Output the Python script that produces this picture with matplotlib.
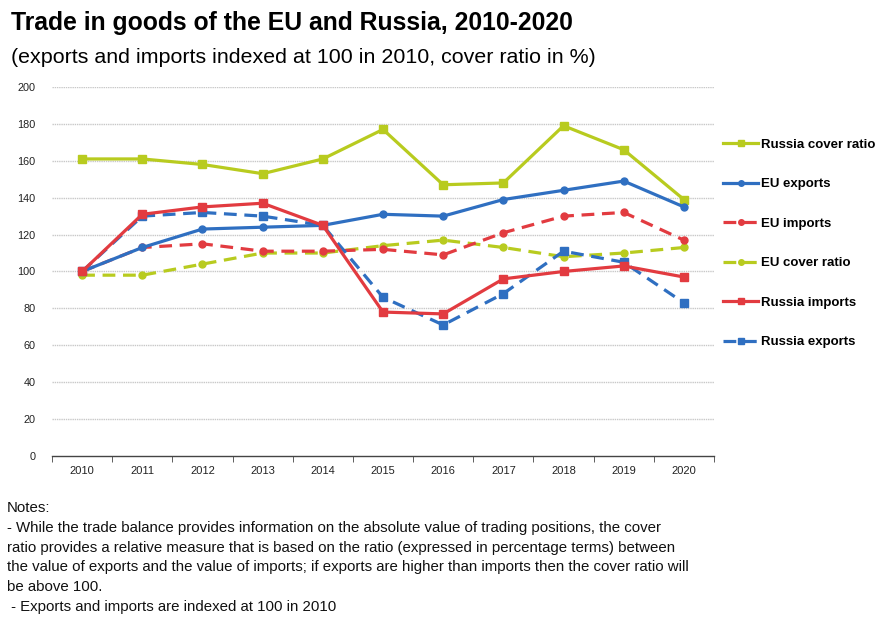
import matplotlib
matplotlib.use("Agg")
import matplotlib.pyplot as plt

# ---- data ----
years = ["2010", "2011", "2012", "2013", "2014", "2015", "2016", "2017", "2018", "2019", "2020"]
russia_cover_ratio = [161, 161, 158, 153, 161, 177, 147, 148, 179, 166, 139]
eu_exports = [100, 113, 123, 124, 125, 131, 130, 139, 144, 149, 135]
eu_imports = [100, 113, 115, 111, 111, 112, 109, 121, 130, 132, 117]
eu_cover_ratio = [98, 98, 104, 110, 110, 114, 117, 113, 108, 110, 113]
russia_imports = [100, 131, 135, 137, 125, 78, 77, 96, 100, 103, 97]
russia_exports = [100, 130, 132, 130, 125, 86, 71, 88, 111, 105, 83]
y_ticks = [0, 20, 40, 60, 80, 100, 120, 140, 160, 180, 200]

LIME = "#b8cb1f"
BLUE = "#2f6fc1"
RED = "#e23b40"

plt.rcParams["font.family"] = ["Liberation Sans", "DejaVu Sans"]

fig = plt.figure(figsize=(8.82, 6.17), dpi=100)
ax = fig.add_axes([0.059, 0.261, 0.7505, 0.598])

x = list(range(len(years)))
dash = (4, 2.4)
series = [
    ("Russia cover ratio", russia_cover_ratio, LIME, "-", "s"),
    ("EU exports", eu_exports, BLUE, "-", "o"),
    ("EU imports", eu_imports, RED, "--", "o"),
    ("EU cover ratio", eu_cover_ratio, LIME, "--", "o"),
    ("Russia imports", russia_imports, RED, "-", "s"),
    ("Russia exports", russia_exports, BLUE, "--", "s"),
]

# draw order so that the solid lines sit on top of the dashed ones
draw_order = [3, 2, 5, 0, 1, 4]
handles = {}
for i in draw_order:
    label, vals, col, ls, mk = series[i]
    kw = dict(color=col, lw=2.3, marker=mk, ms=5.5 if mk == "s" else 5,
              markerfacecolor=col, markeredgecolor=col, label=label)
    if ls == "--":
        (ln,) = ax.plot(x, vals, dashes=dash, **kw)
    else:
        (ln,) = ax.plot(x, vals, ls="-", **kw)
    handles[i] = ln

ax.set_xlim(-0.5, len(years) - 0.5)
ax.set_ylim(0, 200)
ax.set_yticks(y_ticks)
ax.set_yticklabels([str(v) for v in y_ticks], fontsize=7.8, color="#222222")
ax.set_xticks(x)
ax.set_xticklabels(years, fontsize=8, color="#222222")
ax.set_xticks([i - 0.5 for i in range(len(years) + 1)], minor=True)
ax.tick_params(axis="x", which="major", length=0, pad=7)
ax.tick_params(axis="x", which="minor", length=4, color="#444444")
ax.tick_params(axis="y", length=0, pad=12)

for v in y_ticks[1:]:
    ax.axhline(v, color="#c8c8c8", lw=1.0, ls=(0, (1, 0.6)), zorder=0)

for s in ["top", "right", "left"]:
    ax.spines[s].set_visible(False)
ax.spines["bottom"].set_color("#444444")
ax.spines["bottom"].set_linewidth(1.0)

leg = fig.legend([handles[i] for i in range(6)], [s[0] for s in series],
                 loc="upper left", bbox_to_anchor=(0.806, 0.795),
                 frameon=False, handlelength=2.7, handletextpad=0.22,
                 labelspacing=2.07, prop={"weight": "bold", "size": 9.5})
for h in leg.legend_handles:
    h.set_markersize(4)

fig.text(0.012, 0.963, "Trade in goods of the EU and Russia, 2010-2020",
         fontsize=17.8, fontweight="bold", va="center", ha="left")
fig.text(0.012, 0.906, "(exports and imports indexed at 100 in 2010, cover ratio in %)",
         fontsize=15.4, va="center", ha="left")

notes = [
    "Notes:",
    "- While the trade balance provides information on the absolute value of trading positions, the cover",
    "ratio provides a relative measure that is based on the ratio (expressed in percentage terms) between",
    "the value of exports and the value of imports; if exports are higher than imports then the cover ratio will",
    "be above 100.",
    " - Exports and imports are indexed at 100 in 2010",
]
for k, line in enumerate(notes):
    fig.text(0.008, 1 - (508 + k * 19.8) / 617, line, fontsize=10.8,
             va="center", ha="left", color="#111111")

fig.savefig("out.png", dpi=100)
